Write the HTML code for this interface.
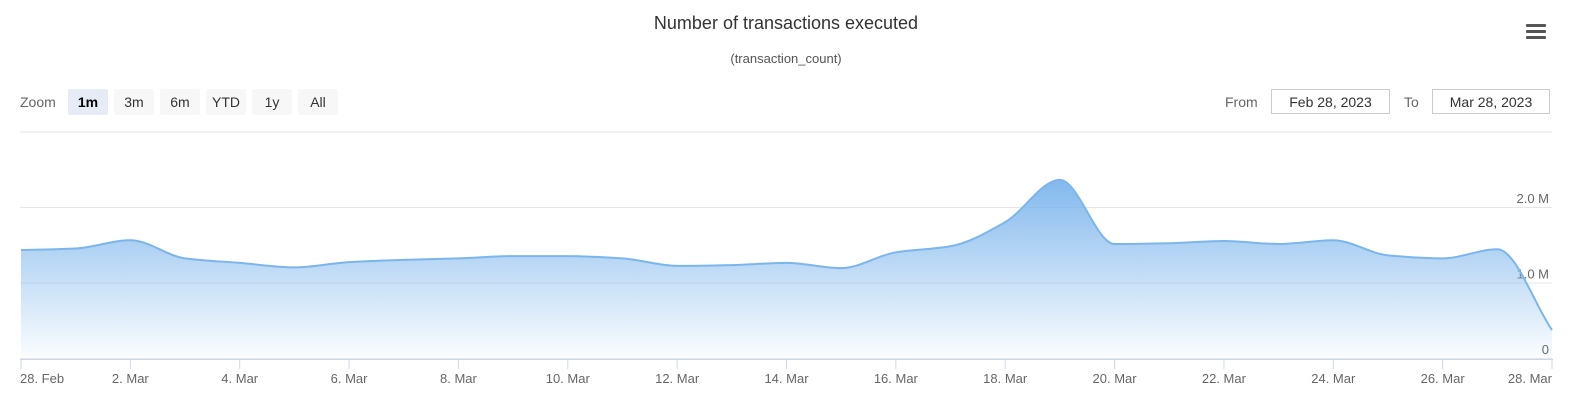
<!DOCTYPE html>
<html><head><meta charset="utf-8"><style>
body{margin:0;background:#fff;width:1572px;height:402px;overflow:hidden;font-family:"Liberation Sans",sans-serif}
.btn{position:absolute;top:89px;height:26px;background:#f7f7f7;font-size:14px;color:#333;text-align:center;line-height:26px;border-radius:2px}
.inp{position:absolute;top:89px;height:25px;border:1px solid #ccc;font-size:14px;color:#333;line-height:25px;text-align:center;box-sizing:border-box}
</style></head><body>
<div style="position:absolute;left:0;width:1572px;top:13px;text-align:center;font-size:18px;color:#333">Number of transactions executed</div>
<div style="position:absolute;left:0;width:1572px;top:51px;text-align:center;font-size:13px;color:#555">(transaction_count)</div>
<div style="position:absolute;left:1526px;top:24px;width:20px;height:16px">
<div style="height:3px;background:#555;margin-bottom:3px;border-radius:1px"></div><div style="height:3px;background:#555;margin-bottom:3px;border-radius:1px"></div><div style="height:3px;background:#555;border-radius:1px"></div></div>
<div style="position:absolute;left:20px;top:94px;font-size:14px;color:#666">Zoom</div>
<div class="btn" style="left:68px;width:40px;background:#e6ebf5;font-weight:bold;color:#000">1m</div>
<div class="btn" style="left:114px;width:40px">3m</div>
<div class="btn" style="left:160px;width:40px">6m</div>
<div class="btn" style="left:206px;width:40px">YTD</div>
<div class="btn" style="left:252px;width:40px">1y</div>
<div class="btn" style="left:298px;width:40px">All</div>
<div style="position:absolute;left:1225px;top:94px;font-size:14px;color:#666">From</div>
<div class="inp" style="left:1271px;width:119px">Feb 28, 2023</div>
<div style="position:absolute;left:1404px;top:94px;font-size:14px;color:#666">To</div>
<div class="inp" style="left:1432px;width:118px">Mar 28, 2023</div>
<svg id="c" width="1572" height="402" style="position:absolute;left:0;top:0">
<defs><linearGradient id="g" x1="0" y1="0" x2="0" y2="1"><stop offset="0" stop-color="#7cb5ec" stop-opacity="0.95"/><stop offset="1" stop-color="#7cb5ec" stop-opacity="0.03"/></linearGradient></defs>
</svg>
<script>
const dates=["28. Feb","1. Mar","2. Mar","3. Mar","4. Mar","5. Mar","6. Mar","7. Mar","8. Mar","9. Mar","10. Mar","11. Mar","12. Mar","13. Mar","14. Mar","15. Mar","16. Mar","17. Mar","18. Mar","19. Mar","20. Mar","21. Mar","22. Mar","23. Mar","24. Mar","25. Mar","26. Mar","27. Mar","28. Mar"];
const values=[1.43,1.45,1.56,1.32,1.26,1.2,1.27,1.30,1.32,1.35,1.35,1.32,1.22,1.23,1.26,1.19,1.40,1.48,1.80,2.36,1.51,1.52,1.55,1.51,1.56,1.36,1.32,1.44,0.37];
const yTicks=[0,1,2,3];
const yTickLabels=["0","1.0 M","2.0 M",""];
const X0=21,X1=1552,Y0=358,PER=75.5;
const x=i=>X0+(X1-X0)*i/(dates.length-1);
const y=v=>Y0-v*PER;
const svg=document.getElementById('c');const NS="http://www.w3.org/2000/svg";
function mk(t,a){const e=document.createElementNS(NS,t);for(const k in a)e.setAttribute(k,a[k]);svg.appendChild(e);return e;}
yTicks.forEach((t,i)=>{
 const l=mk('line',{x1:X0-1,x2:X1,y1:y(t)+0.5,y2:y(t)+0.5,stroke:'#e6e6e6'});
 
 
 if(yTickLabels[i]){const tx=mk('text',{x:1549,y:y(t)-4,'text-anchor':'end','font-size':13,fill:'#666','font-family':'Liberation Sans'});tx.textContent=yTickLabels[i];
 
 }
});
const pts=values.map((v,i)=>[x(i),y(v)]);
// monotone cubic
const n=pts.length,dx=pts[1][0]-pts[0][0];
const sl=[];for(let i=0;i<n-1;i++)sl.push((pts[i+1][1]-pts[i][1])/dx);
const m=[];for(let i=0;i<n;i++){
 if(i==0)m.push(sl[0]);else if(i==n-1)m.push(sl[n-2]);
 else if(sl[i-1]*sl[i]<=0)m.push(0);else m.push(2/(1/sl[i-1]+1/sl[i]));
}
let d="M"+pts[0][0]+","+pts[0][1];
for(let i=0;i<n-1;i++){
 const h=dx/3;
 d+=` C${pts[i][0]+h},${pts[i][1]+m[i]*h} ${pts[i+1][0]-h},${pts[i+1][1]-m[i+1]*h} ${pts[i+1][0]},${pts[i+1][1]}`;
}
const area=mk('path',{d:d+` L${X1},${Y0} L${X0},${Y0} Z`,fill:'url(#g)'});


const line=mk('path',{d:d,fill:'none',stroke:'#7cb5ec','stroke-width':2});


const ax=mk('line',{x1:X0-1,x2:X1+1,y1:Y0+1.5,y2:Y0+1.5,stroke:'#ccd6eb'});


dates.forEach((t,i)=>{
 if(i%2)return;
 const tk=mk('line',{x1:x(i),x2:x(i),y1:Y0+1,y2:Y0+11,stroke:'#ccd6eb'});
 
 
 const anchor=i==0?'start':(i==dates.length-1?'end':'middle');
 const tx=mk('text',{x:i==0?x(i)-1:x(i),y:383,'text-anchor':anchor,'font-size':13,fill:'#666','font-family':'Liberation Sans'});
 tx.textContent=t;
 
 
});
</script>
</body></html>
